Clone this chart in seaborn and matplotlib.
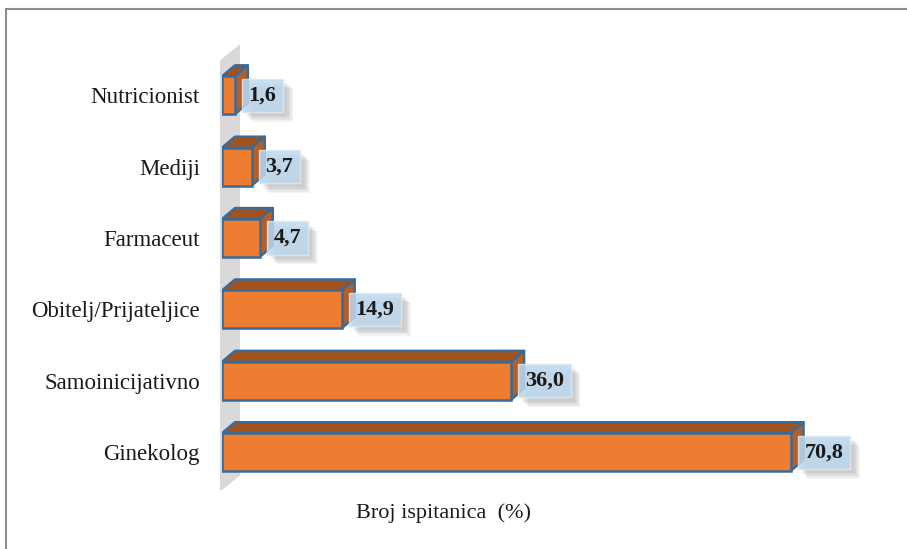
import matplotlib
matplotlib.use("Agg")
import matplotlib.pyplot as plt
from matplotlib.patches import Polygon
from matplotlib.lines import Line2D
from matplotlib import patheffects
import seaborn as sns
import pandas as pd

# Data
categories = ["Nutricionist", "Mediji", "Farmaceut", "Obitelj/Prijateljice",
              "Samoinicijativno", "Ginekolog"]
values = [1.6, 3.7, 4.7, 14.9, 36.0, 70.8]
value_labels = ["1,6", "3,7", "4,7", "14,9", "36,0", "70,8"]
x_label = "Broj ispitanica  (%)"

df = pd.DataFrame({"kategorija": categories, "postotak": values})

sns.set_theme(style="white")
plt.rcParams["font.family"] = ["Liberation Serif", "DejaVu Serif"]

fig = plt.figure(figsize=(9.07, 5.49), dpi=100)
ax = fig.add_axes([222 / 907, 54 / 549, 648 / 907, 464 / 549])

front = "#ED7D31"
edge = "#3B6A97"

sns.barplot(data=df, x="postotak", y="kategorija", orient="h", color=front,
            saturation=1, width=0.53, edgecolor=edge, linewidth=1.8, ax=ax, zorder=3)

ax.set_xlim(0, 648 / 8.03)
ax.set_ylim(5.6, -0.9)


def px_to_data(dx_px, dy_px):
    x0, y0 = ax.transData.transform((0, 0))
    return ax.transData.inverted().transform((x0 + dx_px, y0 + dy_px))


# 3D depth of the bars
ddx, ddy = px_to_data(13, 11)
for p in list(ax.patches):
    x0, y0, w, h = p.get_x(), p.get_y(), p.get_width(), p.get_height()
    top = Polygon([(x0, y0), (x0 + w, y0), (x0 + w + ddx, y0 + ddy), (x0 + ddx, y0 + ddy)],
                  closed=True, fc="#A0531F", ec=edge, lw=1.8, zorder=2.9, joinstyle="round")
    side = Polygon([(x0 + w, y0), (x0 + w, y0 + h), (x0 + w + ddx, y0 + h + ddy),
                    (x0 + w + ddx, y0 + ddy)],
                   closed=True, fc="#B55F28", ec=edge, lw=1.8, zorder=2.9, joinstyle="round")
    ax.add_patch(top)
    ax.add_patch(side)

# grey wall on the left
wx0, _ = px_to_data(-2, 0)
wdx, wdy = px_to_data(20, 16)
wall_top, wall_bot = -0.49, 5.55
wall = Polygon([(wx0, wall_top), (wx0 + wdx, wall_top + wdy),
                (wx0 + wdx, wall_bot + wdy), (wx0, wall_bot)],
               closed=True, fc="#D9D9D9", ec="none", zorder=1, clip_on=False)
ax.add_patch(wall)

# value labels with soft shadow
shadow = [patheffects.SimplePatchShadow(offset=(o, -o), shadow_rgbFace="#808080", alpha=0.09)
          for o in (3, 4, 5, 6, 7)]
for i, (v, lab) in enumerate(zip(values, value_labels)):
    t = ax.annotate(lab, xy=(v, i), xytext=(10, 0), textcoords="offset points",
                    ha="left", va="center", fontsize=16, fontweight="bold",
                    color="#1a1a1a", zorder=5,
                    bbox=dict(boxstyle="square,pad=0.3", fc="#BDD7EE", ec="#DDE7F2",
                              lw=1, alpha=0.85))
    t.get_bbox_patch().set_path_effects(shadow + [patheffects.Normal()])

ax.set_xlabel("")
ax.set_ylabel("")
ax.set_xticks([])
ax.tick_params(axis="y", length=0, pad=16, labelsize=16.5, labelcolor="#1a1a1a")
for s in ax.spines.values():
    s.set_visible(False)

fig.text(443 / 907, 1 - 513 / 549, x_label, ha="center", va="center",
         fontsize=16, color="#1a1a1a")

# frame lines (top and left)
fig.add_artist(Line2D([6 / 907, 6 / 907], [0, 1 - 9 / 549], transform=fig.transFigure,
                      color="#8C8C8C", lw=1.5))
fig.add_artist(Line2D([6 / 907, 1], [1 - 9 / 549, 1 - 9 / 549], transform=fig.transFigure,
                      color="#8C8C8C", lw=1.5))

fig.savefig("out.png", dpi=100)
